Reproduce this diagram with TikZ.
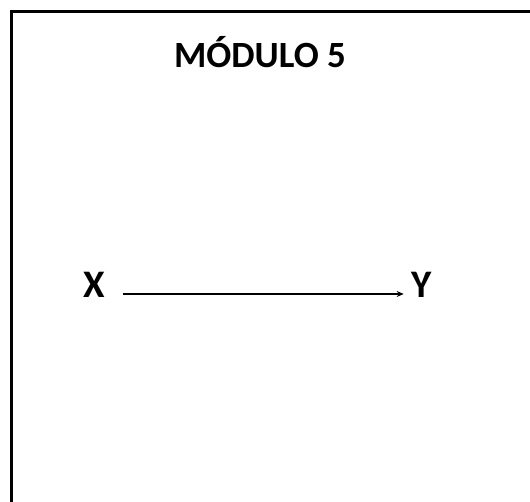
\documentclass[tikz,border=0pt]{standalone}
\usepackage{fontspec}
\setmainfont{Carlito}
\usetikzlibrary{arrows.meta}
\begin{document}
\begin{tikzpicture}[x=1pt,y=-1pt,
  lbl/.style={font=\bfseries\fontsize{39}{41}\selectfont, inner sep=0pt, anchor=base},
  ttl/.style={font=\bfseries\fontsize{37}{40}\selectfont, inner sep=0pt, anchor=base},
  conn/.style={-{Stealth[length=7pt,width=6pt]}, line width=1.1pt}]
\useasboundingbox (0,0) rectangle (530,502);
\draw[line width=3pt] (11.5,502) -- (11.5,11.5) -- (530,11.5);
\node[ttl] (t) at (260,68) {MÓDULO 5};
\node[lbl] (x) at (94,298) {X};
\node[lbl] (y) at (422,298) {Y};
\draw[conn] (x.east |- 0,294) ++(18,0) -- ([xshift=-8pt]y.west |- 0,294);
\end{tikzpicture}
\end{document}
